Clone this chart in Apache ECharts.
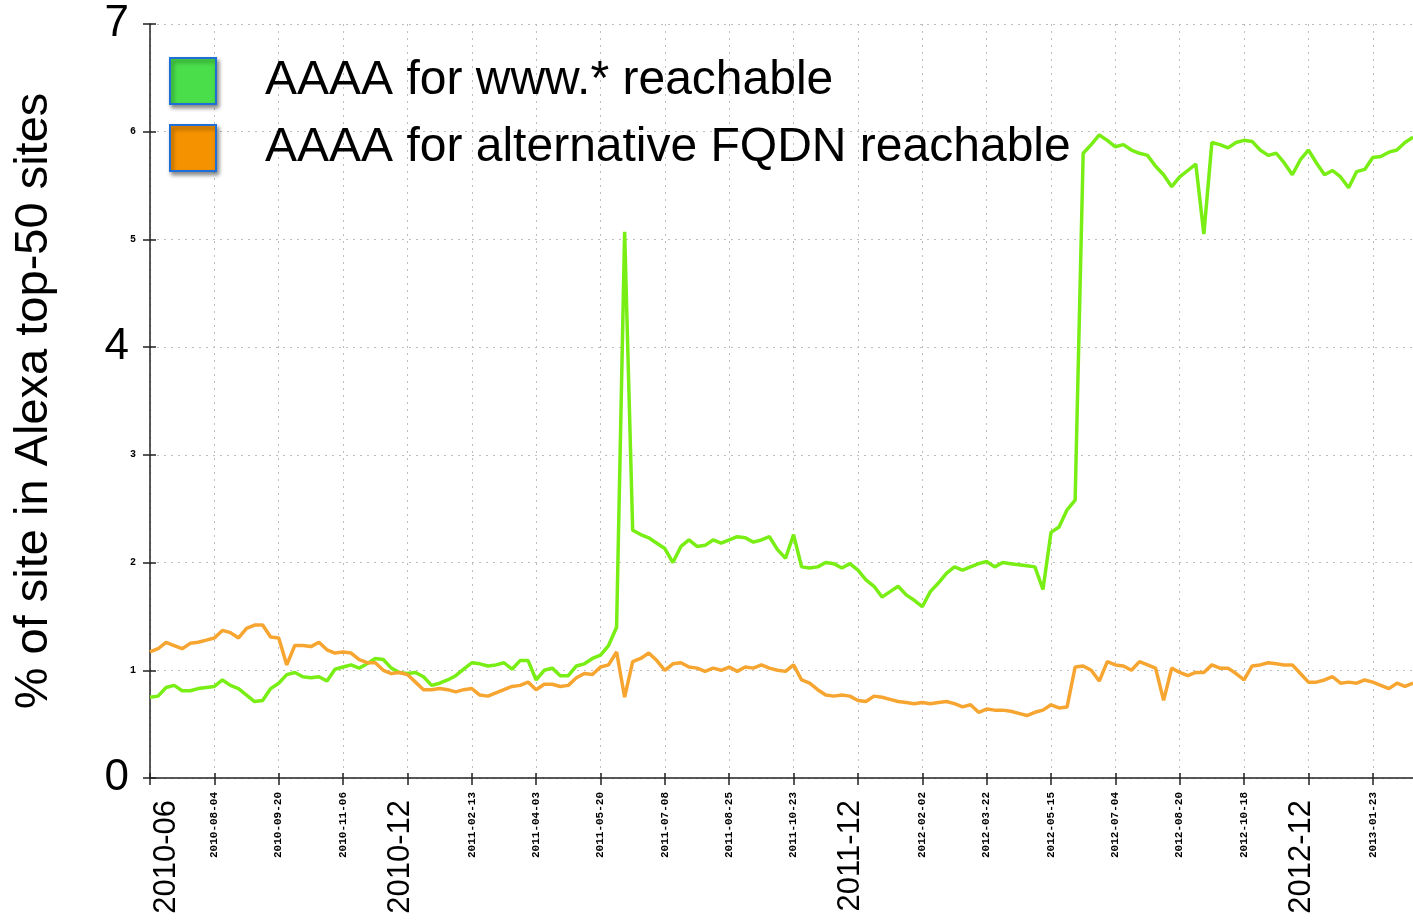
<!DOCTYPE html>
<html>
<head>
<meta charset="utf-8">
<script src="https://cdn.jsdelivr.net/npm/echarts@6/dist/echarts.min.js"></script>
<style>
html,body{margin:0;padding:0;background:#fff;}
#chart{width:1413px;height:921px;}
</style>
</head>
<body>
<div id="chart"></div>
<script>
// ---- data ----
const tickLabels = ['2010-06','2010-08-04','2010-09-20','2010-11-06','2010-12','2011-02-13','2011-04-03','2011-05-20','2011-07-08','2011-08-25','2011-10-23','2011-12','2012-02-02','2012-03-22','2012-05-15','2012-07-04','2012-08-20','2012-10-18','2012-12','2013-01-23'];
const samplesPerTick = 8;
const yBigLabels = [0, 4, 7];
const seriesNames = ['AAAA for www.* reachable', 'AAAA for alternative FQDN reachable'];
const yAxisName = '% of site in Alexa top-50 sites';

const wwwReachable = [
  0.75,0.76,0.84,0.86,0.81,0.81,0.83,0.84,0.85,0.91,
  0.86,0.83,0.77,0.71,0.72,0.83,0.88,0.96,0.98,0.94,
  0.93,0.94,0.90,1.01,1.03,1.05,1.02,1.06,1.11,1.10,
  1.02,0.98,0.97,0.98,0.94,0.86,0.88,0.91,0.95,1.01,
  1.07,1.06,1.04,1.05,1.07,1.01,1.09,1.09,0.91,1.00,
  1.02,0.95,0.95,1.04,1.06,1.11,1.14,1.23,1.40,5.07,
  2.30,2.26,2.23,2.18,2.13,2.00,2.15,2.21,2.15,2.16,
  2.21,2.18,2.21,2.24,2.23,2.19,2.21,2.24,2.12,2.04,
  2.26,1.96,1.95,1.96,2.00,1.99,1.95,1.99,1.93,1.84,
  1.78,1.68,1.73,1.78,1.70,1.65,1.59,1.73,1.81,1.90,
  1.96,1.93,1.96,1.99,2.01,1.96,2.00,1.99,1.98,1.97,
  1.96,1.75,2.28,2.33,2.49,2.58,5.80,5.88,5.97,5.92,
  5.86,5.88,5.83,5.80,5.78,5.68,5.60,5.49,5.58,5.64,
  5.70,5.05,5.90,5.88,5.85,5.90,5.92,5.91,5.83,5.78,
  5.80,5.71,5.60,5.74,5.83,5.71,5.60,5.64,5.58,5.48,
  5.63,5.65,5.76,5.77,5.81,5.83,5.90,5.95
];
const altReachable = [
  1.17,1.20,1.26,1.23,1.20,1.25,1.26,1.28,1.30,1.37,
  1.35,1.30,1.39,1.42,1.42,1.31,1.30,1.05,1.23,1.23,
  1.22,1.26,1.19,1.16,1.17,1.16,1.10,1.07,1.07,1.00,
  0.97,0.98,0.96,0.89,0.82,0.82,0.83,0.82,0.80,0.82,
  0.83,0.77,0.76,0.79,0.82,0.85,0.86,0.89,0.82,0.87,
  0.87,0.85,0.86,0.93,0.97,0.96,1.03,1.05,1.17,0.75,
  1.08,1.11,1.16,1.09,1.00,1.06,1.07,1.03,1.02,0.99,
  1.02,1.00,1.03,0.99,1.03,1.02,1.05,1.02,1.00,0.99,
  1.05,0.91,0.88,0.82,0.77,0.76,0.77,0.76,0.72,0.71,
  0.76,0.75,0.73,0.71,0.70,0.69,0.70,0.69,0.70,0.71,
  0.69,0.66,0.68,0.61,0.64,0.63,0.63,0.62,0.60,0.58,
  0.61,0.63,0.68,0.65,0.66,1.03,1.04,1.00,0.90,1.08,
  1.05,1.04,1.00,1.08,1.05,1.02,0.72,1.02,0.98,0.95,
  0.98,0.98,1.05,1.02,1.02,0.97,0.91,1.04,1.05,1.07,
  1.06,1.05,1.05,0.97,0.89,0.89,0.91,0.94,0.88,0.89,
  0.88,0.91,0.89,0.86,0.83,0.88,0.85,0.88
];
const categories = wwwReachable.map((_, i) => 'sample ' + i);

// ---- style ----
const FONT = "'Liberation Sans', Arial, Helvetica, sans-serif";
const MONO = "'Liberation Mono', 'DejaVu Sans Mono', monospace";
const AXIS = {color: '#222', width: 1.5};
const GRID = {color: '#bdbdbd', width: 1, type: [2, 5]};
const GREEN_LINE = '#78ee14';
const ORANGE_LINE = '#f7a531';

const chart = echarts.init(document.getElementById('chart'), null, {renderer: 'canvas'});
chart.setOption({
  animation: false,
  backgroundColor: '#fff',
  grid: {left: 150, right: 0, top: 24, bottom: 143, containLabel: false},
  legend: {
    orient: 'vertical', left: 169, top: 57, padding: 0,
    itemWidth: 46, itemHeight: 46, itemGap: 19, icon: 'rect',
    textStyle: {fontSize: 48, fontFamily: FONT, color: '#000', padding: [0, 0, 0, 44], lineHeight: 46},
    data: [
      {name: seriesNames[0], itemStyle: {color: '#4ade4a', borderColor: '#1f6fd8', borderWidth: 2,
        shadowBlur: 4, shadowColor: 'rgba(0,0,0,0.45)', shadowOffsetX: 2, shadowOffsetY: 3}},
      {name: seriesNames[1], itemStyle: {color: '#f59200', borderColor: '#1f6fd8', borderWidth: 2,
        shadowBlur: 4, shadowColor: 'rgba(0,0,0,0.45)', shadowOffsetX: 2, shadowOffsetY: 3}}
    ]
  },
  xAxis: [{
    type: 'category', data: categories, boundaryGap: false,
    axisLine: {show: true, lineStyle: AXIS},
    axisTick: {show: true, interval: samplesPerTick - 1, length: 7, lineStyle: AXIS},
    axisLabel: {
      interval: samplesPerTick - 1, rotate: 90, margin: 14, color: '#000',
      formatter: (v, i) => {
        if (i % samplesPerTick !== 0) return '';
        const t = tickLabels[i / samplesPerTick];
        if (!t) return '';
        if (t.length === 7) return (i === 0 ? '{bigFirst|' : '{big|') + t + '}';
        return '{small|' + t + '}';
      },
      rich: {
        big: {fontSize: 31, fontFamily: FONT, color: '#000', padding: [0, 8, 14, 0]},
        bigFirst: {fontSize: 31, fontFamily: FONT, color: '#000', padding: [32, 8, 0, 0]},
        small: {fontSize: 11, fontFamily: MONO, fontWeight: 'bold', color: '#000'}
      }
    },
    splitLine: {show: true, interval: samplesPerTick - 1, lineStyle: GRID}
  }, {
    type: 'category', data: categories, boundaryGap: false, position: 'bottom',
    axisLine: {show: false},
    axisTick: {show: true, inside: true, interval: samplesPerTick - 1, length: 5, lineStyle: AXIS},
    axisLabel: {show: false}, splitLine: {show: false}
  }],
  yAxis: [{
    type: 'value', min: 0, max: 7, interval: 1,
    name: yAxisName, nameLocation: 'middle', nameRotate: 90, nameGap: 92,
    nameTextStyle: {fontSize: 47, fontFamily: FONT, color: '#000'},
    axisLine: {show: true, lineStyle: AXIS},
    axisTick: {show: true, length: 7, lineStyle: AXIS},
    axisLabel: {
      margin: 14, color: '#000',
      formatter: v => yBigLabels.includes(v) ? '{big|' + v + '}' : '{small|' + v + '}',
      rich: {
        big: {fontSize: 44, fontFamily: FONT, color: '#000', padding: [0, 7, 0, 0]},
        small: {fontSize: 10, fontFamily: MONO, fontWeight: 'bold', color: '#000'}
      }
    },
    splitLine: {show: true, lineStyle: GRID}
  }, {
    type: 'value', min: 0, max: 7, interval: 1, position: 'left',
    axisLine: {show: false},
    axisTick: {show: true, inside: true, length: 6, lineStyle: AXIS},
    axisLabel: {show: false}, splitLine: {show: false}
  }],
  series: [
    {name: seriesNames[0], type: 'line', data: wwwReachable, showSymbol: false, symbol: 'none',
      lineStyle: {color: GREEN_LINE, width: 3.5}, itemStyle: {color: GREEN_LINE}},
    {name: seriesNames[1], type: 'line', data: altReachable, showSymbol: false, symbol: 'none',
      lineStyle: {color: ORANGE_LINE, width: 3.5}, itemStyle: {color: ORANGE_LINE}}
  ]
});
</script>
</body>
</html>
